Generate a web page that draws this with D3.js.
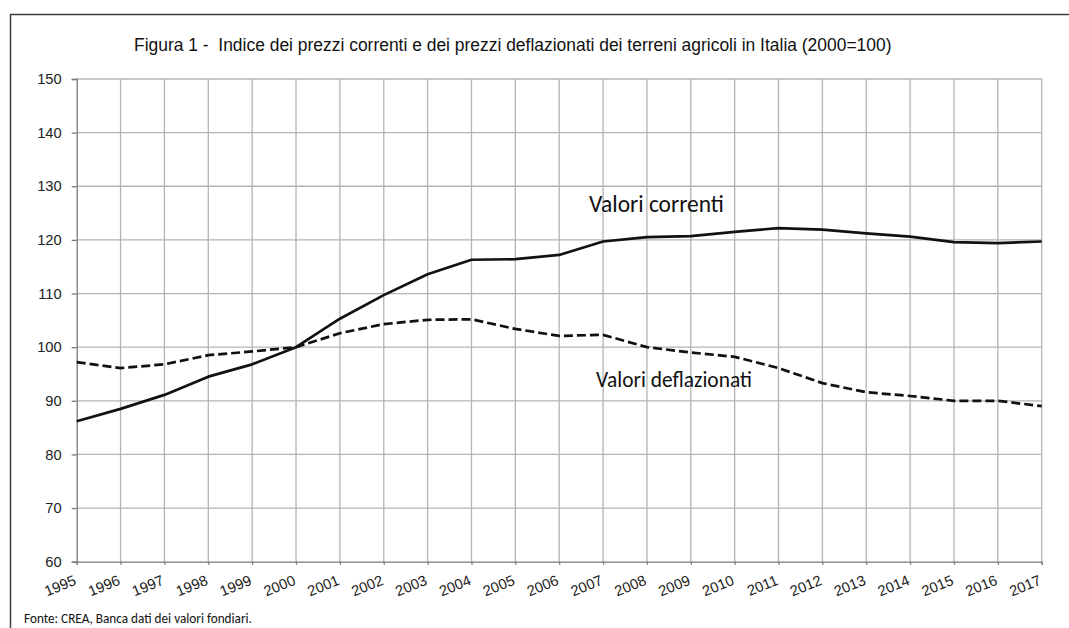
<!DOCTYPE html>
<html>
<head>
<meta charset="utf-8">
<script src="https://cdn.jsdelivr.net/npm/d3@7"></script>
<style>
  body { margin: 0; background: #fff; }
  svg { display: block; }
</style>
</head>
<body>
<div id="main"></div>
<script>
// years on the x axis
const years = d3.range(1995, 2018);
// Valori correnti (2000=100)
const correnti = [86.2, 88.5, 91.1, 94.5, 96.8, 100.0, 105.3, 109.7, 113.6, 116.3, 116.4, 117.2,
  119.7, 120.5, 120.7, 121.5, 122.2, 121.9, 121.2, 120.6, 119.6, 119.4, 119.7];
// Valori deflazionati (2000=100)
const deflazionati = [97.2, 96.1, 96.8, 98.5, 99.2, 100.0, 102.6, 104.3, 105.1, 105.2, 103.4, 102.1,
  102.3, 100.0, 99.0, 98.2, 96.1, 93.3, 91.6, 90.9, 90.0, 90.0, 89.0];
const yTicks = [60, 70, 80, 90, 100, 110, 120, 130, 140, 150];

const title = 'Figura 1 -  Indice dei prezzi correnti e dei prezzi deflazionati dei terreni agricoli in Italia (2000=100)';
const source = 'Fonte: CREA, Banca dati dei valori fondiari.';

// shrink or grow the font so the text takes the given width
function fitText(sel, w) {
  const size = parseFloat(sel.style('font-size'));
  const len = sel.node().getComputedTextLength();
  sel.style('font-size', (size * w / len).toFixed(2) + 'px');
}

function demo() {
  const width = 1069;
  const height = 628;
  const arial = 'Liberation Sans, Arial, sans-serif';
  const calibri = 'Carlito, Lato, sans-serif';

  const svg = d3.select('#main').append('svg')
    .attr('width', width).attr('height', height);

  // outer frame, right and bottom sides fall outside the picture
  svg.append('rect')
    .attr('x', 10.5).attr('y', 14.5)
    .attr('width', 1070).attr('height', 640)
    .attr('fill', 'none').attr('stroke', '#404040').attr('stroke-width', 1.5);

  const x = d3.scaleLinear().domain([1995, 2017]).range([76.7, 1041.7]);
  const y = d3.scaleLinear().domain([60, 150]).range([561.7, 79]);

  // grid
  svg.append('g').selectAll('line').data(yTicks.slice(1)).join('line')
    .attr('x1', x(1995)).attr('x2', x(2017))
    .attr('y1', d => y(d)).attr('y2', d => y(d))
    .attr('stroke', '#b4b4b4').attr('stroke-width', 1.3);
  svg.append('g').selectAll('line').data(years.slice(1)).join('line')
    .attr('x1', d => x(d)).attr('x2', d => x(d))
    .attr('y1', y(150)).attr('y2', y(60))
    .attr('stroke', '#b4b4b4').attr('stroke-width', 1.3);

  // y axis
  const yAxis = svg.append('g')
    .attr('transform', `translate(${x(1995)},0)`)
    .call(d3.axisLeft(y).tickValues(yTicks).tickSize(5).tickPadding(10));
  // x axis
  const xAxis = svg.append('g')
    .attr('transform', `translate(0,${y(60)})`)
    .call(d3.axisBottom(x).tickValues(years).tickFormat(d3.format('d')).tickSize(3));

  [yAxis, xAxis].forEach(a => {
    a.select('.domain').attr('stroke', '#7a7a7a').attr('stroke-width', 1.3);
    a.selectAll('.tick line').attr('stroke', '#7a7a7a').attr('stroke-width', 1.3);
    a.selectAll('text').attr('fill', '#222').style('font-family', arial).style('font-size', '14.7px');
  });
  xAxis.selectAll('.tick text')
    .attr('text-anchor', 'end')
    .attr('dy', null).attr('y', null)
    .attr('transform', 'translate(0,22.5) rotate(-22)');

  // lines
  const line = d3.line().x((d, i) => x(years[i])).y(d => y(d));
  svg.append('path').datum(correnti)
    .attr('d', line).attr('fill', 'none')
    .attr('stroke', '#111').attr('stroke-width', 2.7).attr('stroke-linejoin', 'round');
  svg.append('path').datum(deflazionati)
    .attr('d', line).attr('fill', 'none')
    .attr('stroke', '#111').attr('stroke-width', 2.7).attr('stroke-dasharray', '9,4');

  // texts
  const t = svg.append('text').text(title)
    .attr('x', 134).attr('y', 51)
    .attr('xml:space', 'preserve').style('white-space', 'pre')
    .style('font-family', arial).style('font-size', '17px').attr('fill', '#111');
  fitText(t, 758);
  const c = svg.append('text').text('Valori correnti')
    .attr('x', 589).attr('y', 212)
    .style('font-family', calibri).style('font-size', '22px').attr('fill', '#111');
  fitText(c, 135);
  const dfl = svg.append('text').text('Valori deflazionati')
    .attr('x', 596).attr('y', 387)
    .style('font-family', calibri).style('font-size', '22px').attr('fill', '#111');
  fitText(dfl, 156);
  const f = svg.append('text').text(source)
    .attr('x', 24).attr('y', 623)
    .style('font-family', calibri).style('font-size', '14px').attr('fill', '#111');
  fitText(f, 228);
}

demo();
</script>
</body>
</html>
